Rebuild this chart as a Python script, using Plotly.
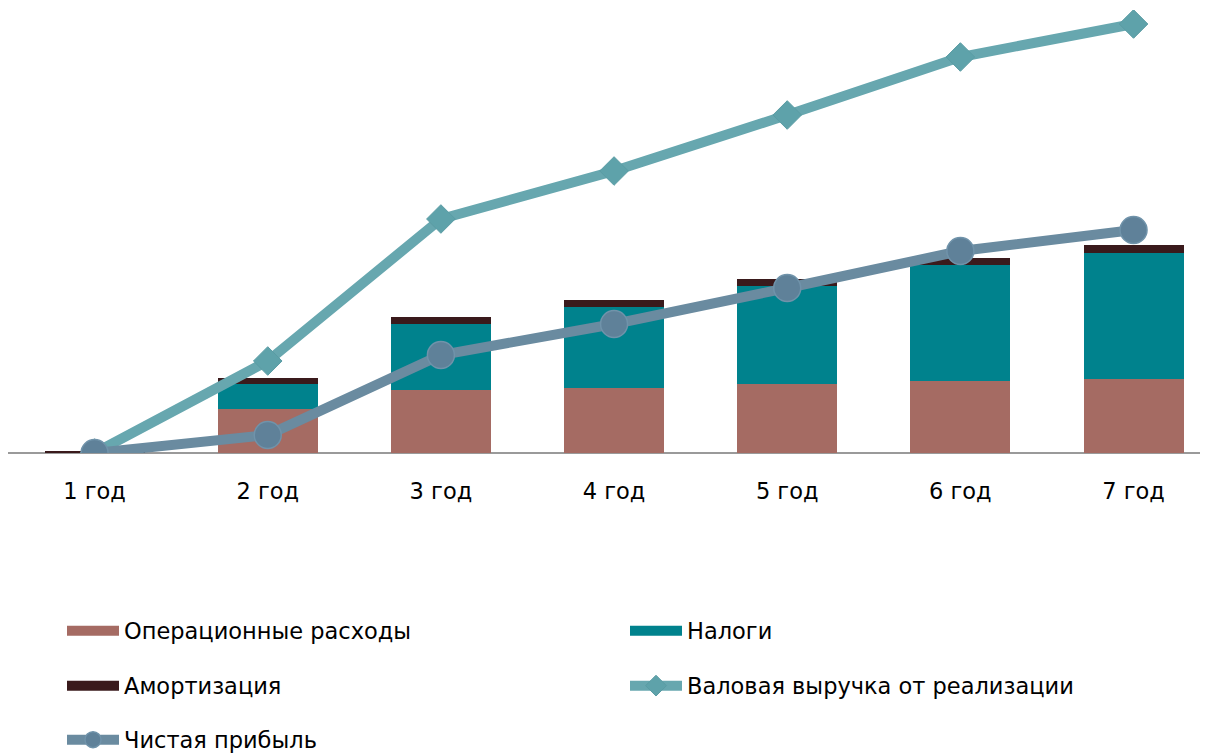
import plotly.graph_objects as go

categories = ["1 год", "2 год", "3 год", "4 год", "5 год", "6 год", "7 год"]
opex = [0.0, 4.4, 6.3, 6.5, 6.9, 7.2, 7.4]
taxes = [0.0, 2.5, 6.6, 8.1, 9.8, 11.6, 12.6]
amort = [0.15, 0.6, 0.7, 0.7, 0.7, 0.7, 0.8]
revenue = [0.0, 9.2, 23.4, 28.2, 33.8, 39.6, 42.9]
net_profit = [0.0, 1.8, 9.8, 12.9, 16.5, 20.2, 22.3]

x = list(range(len(categories)))
FONT = "DejaVu Sans"
C_OPEX = "#A56B63"
C_TAX = "#00828D"
C_AMORT = "#3A1A1C"

fig = go.Figure()
# stacked bars (legend entries drawn by legend-only proxies below to get wide swatches)
fig.add_trace(go.Bar(x=x, y=opex, name="Операционные расходы", width=0.577, showlegend=False,
                     marker=dict(color=C_OPEX, line=dict(width=0))))
fig.add_trace(go.Bar(x=x, y=taxes, name="Налоги", width=0.577, showlegend=False,
                     marker=dict(color=C_TAX, line=dict(width=0))))
fig.add_trace(go.Bar(x=x, y=amort, name="Амортизация", width=0.577, showlegend=False,
                     marker=dict(color=C_AMORT, line=dict(width=0))))

# legend proxies
for name, col, leg in [("Операционные расходы", C_OPEX, "legend"),
                       ("Налоги", C_TAX, "legend"),
                       ("Амортизация", C_AMORT, "legend2")]:
    fig.add_trace(go.Scatter(x=[None], y=[None], mode="lines", name=name,
                             line=dict(color=col, width=13), legend=leg, hoverinfo="skip"))

fig.add_trace(go.Scatter(x=x, y=revenue, name="Валовая выручка от реализации", mode="lines+markers",
                         line=dict(color="#67A7AF", width=10),
                         marker=dict(symbol="diamond", size=22, color="#5EA2AA",
                                     line=dict(color="#5A9CA4", width=1)),
                         legend="legend2"))
fig.add_trace(go.Scatter(x=x, y=net_profit, name="Чистая прибыль", mode="lines+markers",
                         line=dict(color="#6A8BA0", width=10),
                         marker=dict(symbol="circle", size=27, color="#5F8199",
                                     line=dict(color="#7093AA", width=1.5)),
                         legend="legend3"))

leg_common = dict(orientation="h", xanchor="left", yanchor="middle", bgcolor="rgba(0,0,0,0)",
                  font=dict(family=FONT, size=22.5, color="#000000"), itemwidth=52,
                  entrywidth=496, entrywidthmode="pixels", traceorder="normal",
                  itemclick=False, itemdoubleclick=False)

# page has an 8px body margin: figure is 1200x745 so that it fills the 1208x753 window
def py(ypx):
    return (453 - ypx) / 443.0

LX = (62 - 8) / 1200

fig.update_layout(
    width=1200, height=745,
    margin=dict(l=0, r=0, t=2, b=300, autoexpand=False),
    paper_bgcolor="white", plot_bgcolor="white",
    barmode="stack",
    xaxis=dict(range=[-0.5, 6.43], tickmode="array", tickvals=x, ticktext=categories,
               showgrid=False, zeroline=False, showline=False, ticks="",
               ticklabelstandoff=22,
               tickfont=dict(family=FONT, size=22.5, color="#000000")),
    yaxis=dict(range=[0, 44.3], showgrid=False, zeroline=True, zerolinecolor="#9A9A9A",
               zerolinewidth=1.5, showticklabels=False, showline=False, ticks=""),
    legend=dict(x=LX, y=py(631), **leg_common),
    legend2=dict(x=LX, y=py(686), **leg_common),
    legend3=dict(x=LX, y=py(740), **leg_common),
    showlegend=True,
)

fig.write_html("out.html")
